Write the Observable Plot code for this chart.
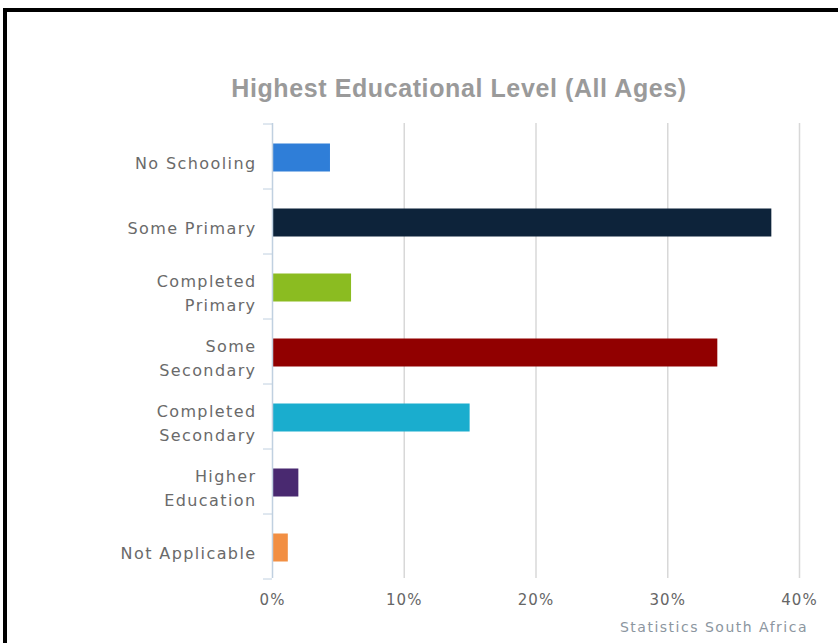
<!DOCTYPE html>
<html>
<head>
<meta charset="utf-8">
<script src="https://cdn.jsdelivr.net/npm/d3@7"></script>
<script src="https://cdn.jsdelivr.net/npm/@observablehq/plot@0.6"></script>
<style>
  html, body { margin: 0; padding: 0; background: #fff; }
  body { position: relative; width: 838px; height: 643px; overflow: hidden; }
  #frame { position: absolute; left: 3px; top: 8px; width: 910px; height: 700px; border: 4px solid #000; box-sizing: border-box; }
  #title { position: absolute; left: 0; top: 73px; width: 918px; text-align: center;
    font-family: "Liberation Sans", Arial, sans-serif; font-weight: bold; font-size: 25px; line-height: 30px;
    color: #9a9a9a; letter-spacing: 0.6px; }
  #chart { position: absolute; left: 0; top: 110px; }
  #credits { position: absolute; top: 619px; right: 30px; font-family: "DejaVu Sans", sans-serif;
    font-size: 14px; letter-spacing: 1.5px; color: #8c96a0; white-space: nowrap; }
</style>
</head>
<body>
<div id="frame"></div>
<div id="title">Highest Educational Level (All Ages)</div>
<div id="chart"></div>
<div id="credits">Statistics South Africa</div>
<script>
const categories = ["No Schooling", "Some Primary", "Completed Primary", "Some Secondary", "Completed Secondary", "Higher Education", "Not Applicable"];
const labels = ["No Schooling", "Some Primary", "Completed\nPrimary", "Some\nSecondary", "Completed\nSecondary", "Higher\nEducation", "Not Applicable"];
const values = [4.4, 37.9, 6.0, 33.8, 15.0, 2.0, 1.2];
const colors = ["#2f7ed8", "#0d233a", "#8bbc21", "#910000", "#1aadce", "#492970", "#f28f43"];
const xTicks = [0, 10, 20, 30, 40];
const gridTicks = [10, 20, 30, 40];

const data = categories.map((c, i) => ({category: c, label: labels[i], value: values[i]}));

const W = 838, H = 510, mt = 13, mb = 42, ml = 272, mr = 39;
const step = (H - mt - mb) / categories.length;

const chart = Plot.plot({
  width: W,
  height: H,
  marginTop: mt,
  marginBottom: mb,
  marginLeft: ml,
  marginRight: mr,
  style: {fontFamily: "DejaVu Sans, sans-serif", background: "transparent"},
  x: {domain: [0, 40], axis: null},
  y: {domain: categories, paddingInner: 0.57, paddingOuter: 0.285, axis: null},
  color: {domain: categories, range: colors},
  marks: [
    Plot.gridX(gridTicks, {stroke: "#d8d8d8", strokeOpacity: 1, strokeWidth: 1.5}),
    Plot.barX(data, {x: "value", y: "category", fill: "category", dy: 1.5}),
    Plot.ruleX([0], {stroke: "#c0d0e0", strokeWidth: 1.5}),
    Plot.axisY(categories, {tickSize: 9, text: null, label: null, stroke: "#c0d0e0", dy: -step / 2}),
    Plot.axisY(categories.slice(-1), {tickSize: 9, text: null, label: null, stroke: "#c0d0e0", dy: step / 2}),
    Plot.text(data, {y: "category", text: "label", frameAnchor: "left", textAnchor: "end", dx: -16, dy: 5,
      fontSize: 16, fill: "#6a6a6a", lineHeight: 1.5}),
    Plot.axisX(xTicks, {tickSize: 0, tickPadding: 16, label: null, tickFormat: d => d + "%", fontSize: 15, fill: "#666"})
  ]
});
chart.querySelectorAll('g[aria-label="text"] text').forEach(t => t.style.letterSpacing = "1.4px");
chart.querySelectorAll('g[aria-label="x-axis tick label"] text').forEach(t => t.style.letterSpacing = "1px");
document.getElementById("chart").appendChild(chart);
</script>
</body>
</html>
